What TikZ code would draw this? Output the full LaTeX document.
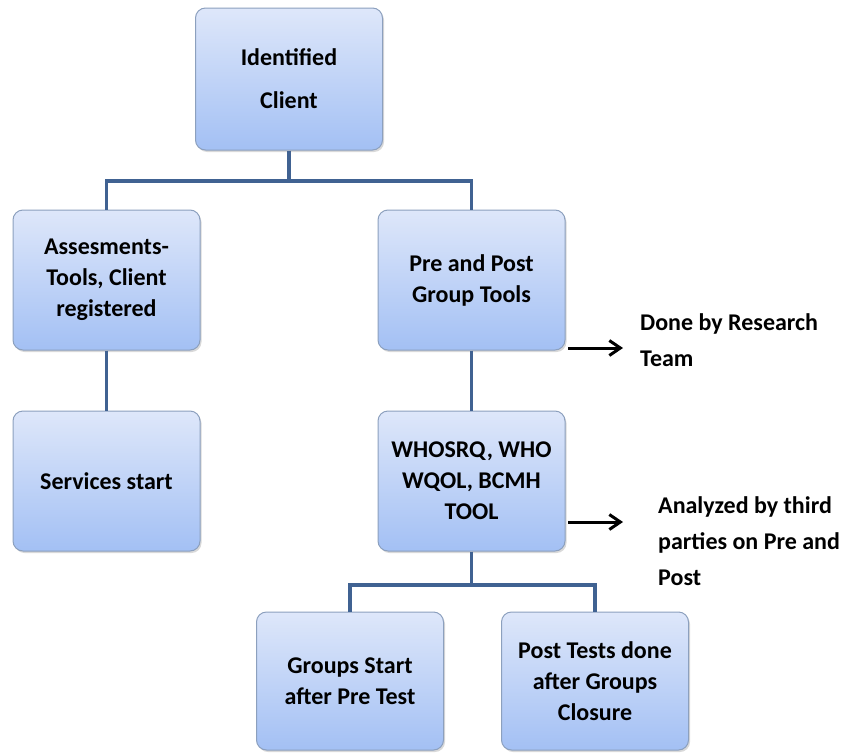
\documentclass[tikz,border=0pt]{standalone}
\usepackage{fontspec}
\setmainfont{Carlito}
\usetikzlibrary{arrows.meta,shadows}
\definecolor{boxtop}{RGB}{222,231,250}
\definecolor{boxbot}{RGB}{163,192,244}
\definecolor{boxline}{RGB}{140,160,190}
\definecolor{conn}{RGB}{64,98,146}
\tikzset{
  stepbox/.style={draw=boxline, line width=1pt, rounded corners=10pt,
    top color=boxtop, bottom color=boxbot, minimum width=187pt, minimum height=140pt,
    align=center, font=\bfseries\fontsize{24}{31}\selectfont, inner sep=2pt,
    drop shadow={shadow xshift=1.5pt, shadow yshift=-2pt, opacity=0.25, fill=black!60}},
  link/.style={draw=conn, line width=3.5pt},
  note/.style={align=left, anchor=west, font=\bfseries\fontsize{24}{36}\selectfont, inner sep=0pt},
  pointer/.style={draw=black, line width=3pt, -{Straight Barb[length=11pt,width=15pt,line width=3pt]}}
}
\begin{document}
\begin{tikzpicture}[x=1pt,y=-1pt]
\useasboundingbox (0,0) rectangle (865,755);
\node[stepbox, minimum height=142pt] (top) at (289,79) {Identified\\[12pt]Client};
\node[stepbox] (assess) at (106.5,280) {Assesments-\\Tools, Client\\registered};
\node[stepbox] (pre) at (471.5,280) {Pre and Post\\Group Tools};
\node[stepbox] (serv) at (106.5,481) {Services start};
\node[stepbox] (who) at (471.5,481) {WHOSRQ, WHO\\WQOL, BCMH\\TOOL};
\node[stepbox, minimum height=138pt] (groups) at (350,681) {Groups Start\\after Pre Test};
\node[stepbox, minimum height=138pt] (post) at (595,681) {Post Tests done\\after Groups\\Closure};

\coordinate (j1) at (289,181);
\coordinate (j2) at (471.5,585);
\draw[link] (top.south) -- (j1) -| (assess.north);
\draw[link] (j1) -| (pre.north);
\draw[link] (assess.south) -- (serv.north);
\draw[link] (pre.south) -- (who.north);
\draw[link] (who.south) -- (j2) -| (groups.north);
\draw[link] (j2) -| (post.north);

\node[note] (done) at (640,340) {Done by Research\\Team};
\node[note] (anal) at (658,541) {Analyzed by third\\parties on Pre and\\Post};
\coordinate (a1) at (568,348);
\coordinate (a2) at (568,522);
\draw[pointer] (a1) -- (a1 -| 623,0);
\draw[pointer] (a2) -- (a2 -| 623,0);
\end{tikzpicture}
\end{document}
